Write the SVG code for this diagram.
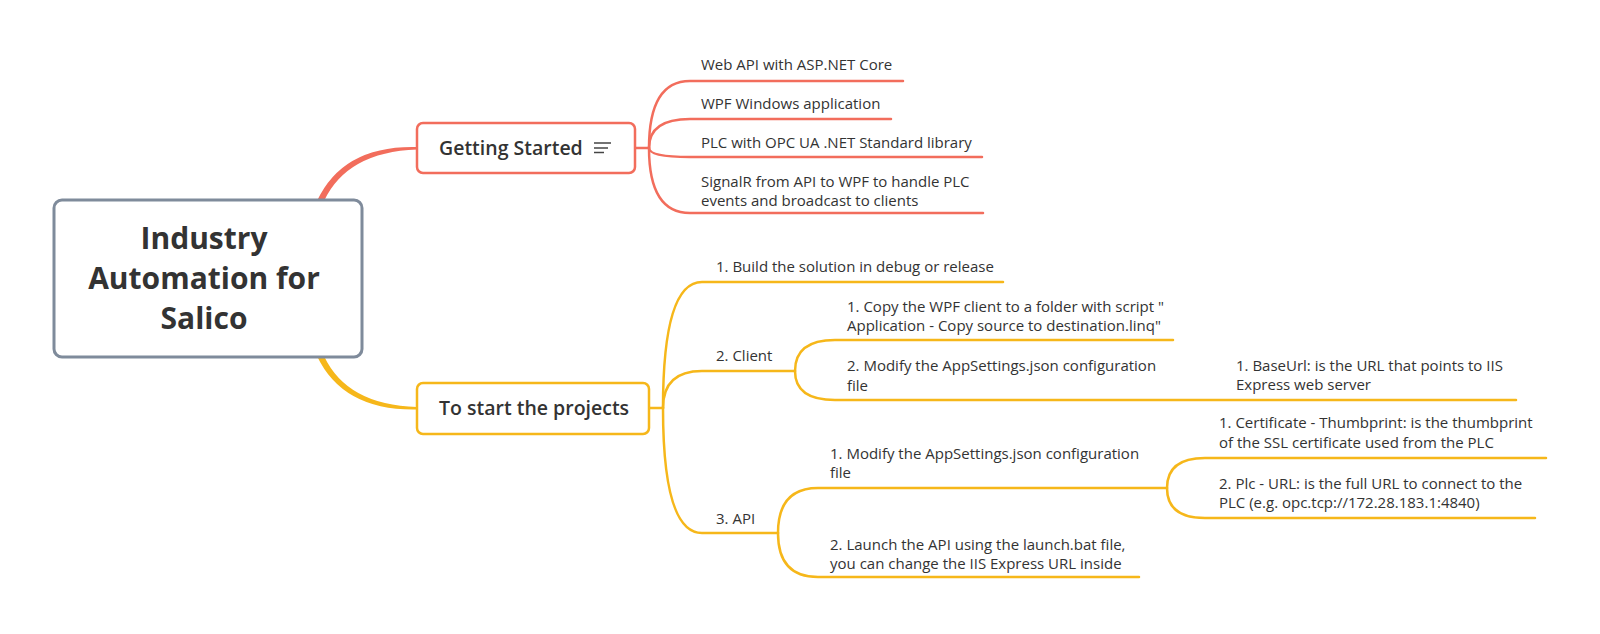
<svg xmlns="http://www.w3.org/2000/svg" width="1600" height="634" viewBox="0 0 1600 634">
<style>
.t{font-family:"Open Sans","Liberation Sans",sans-serif;font-size:15px;fill:#333333}
.tb{font-family:"Open Sans","Liberation Sans",sans-serif;font-size:19.5px;font-weight:600;fill:#333333}
.root{font-family:"Open Sans","Liberation Sans",sans-serif;font-size:30px;font-weight:700;fill:#333333}
.lc{fill:none;stroke:#F26D5C;stroke-width:2.5;stroke-linecap:round}
.lo{fill:none;stroke:#F6B71A;stroke-width:2.5;stroke-linecap:round}
</style>
<rect width="1600" height="634" fill="#ffffff"/>
<g id="connectors">
<path d="M317,201 Q343,145 417,147 L417,149.5 Q347,152 324,201 Z" fill="#F26D5C"/>
<path d="M317,356 Q343,411 417,409.5 L417,407 Q347,405 324,356 Z" fill="#F6B71A"/>
<path class="lc" d="M635,148 L649,148"/>
<path class="lc" d="M649,148 Q649,81 690,81 L903,81"/>
<path class="lc" d="M649,148 Q649,119 690,119 L891,119"/>
<path class="lc" d="M649,148 Q649,157 690,157 L982,157"/>
<path class="lc" d="M649,148 Q649,213 690,213 L983,213"/>
<path class="lo" d="M649,408 L663,408"/>
<path class="lo" d="M663,408 Q663,282 702,282 L1003,282"/>
<path class="lo" d="M663,408 Q663,371 702,371 L795,371"/>
<path class="lo" d="M663,408 Q663,533 702,533 L778,533"/>
<path class="lo" d="M795,371 Q795,340 835,340 L1173,340"/>
<path class="lo" d="M795,371 Q795,400 835,400 L1516,400"/>
<path class="lo" d="M778,533 Q778,488 818,488 L1167,488"/>
<path class="lo" d="M778,533 Q778,577 818,577 L1139,577"/>
<path class="lo" d="M1167,488 Q1167,458 1205,458 L1546,458"/>
<path class="lo" d="M1167,488 Q1167,518 1205,518 L1535,518"/>
</g>
<g id="root">
<rect x="54" y="200" width="308" height="157" rx="8" fill="#ffffff" stroke="#7F8B9B" stroke-width="3"/>
<text class="root" x="204" y="249" text-anchor="middle">Industry</text>
<text class="root" x="204" y="289" text-anchor="middle">Automation for</text>
<text class="root" x="204" y="329" text-anchor="middle">Salico</text>
</g>
<g id="getting-started">
<rect x="417" y="123" width="218" height="50" rx="6" fill="#ffffff" stroke="#F26D5C" stroke-width="2.5"/>
<text class="tb" x="439" y="155">Getting Started</text>
<g stroke="#444444" stroke-width="1.5">
<line x1="594" y1="143" x2="611" y2="143"/>
<line x1="594" y1="148" x2="608" y2="148"/>
<line x1="594" y1="152.5" x2="604" y2="152.5"/>
</g>
</g>
<g id="web-api"><text class="t" x="701" y="70">Web API with ASP.NET Core</text></g>
<g id="wpf"><text class="t" x="701" y="109">WPF Windows application</text></g>
<g id="plc"><text class="t" x="701" y="148">PLC with OPC UA .NET Standard library</text></g>
<g id="signalr"><text class="t" x="701" y="187">SignalR from API to WPF to handle PLC</text><text class="t" x="701" y="206">events and broadcast to clients</text></g>
<g id="to-start">
<rect x="417" y="383" width="232" height="51" rx="6" fill="#ffffff" stroke="#F6B71A" stroke-width="2.5"/>
<text class="tb" x="439" y="415">To start the projects</text>
</g>
<g id="build"><text class="t" x="716" y="272">1. Build the solution in debug or release</text></g>
<g id="client"><text class="t" x="716" y="361">2. Client</text></g>
<g id="copy"><text class="t" x="847" y="312">1. Copy the WPF client to a folder with script "</text><text class="t" x="847" y="331">Application - Copy source to destination.linq"</text></g>
<g id="client-modify"><text class="t" x="847" y="371">2. Modify the AppSettings.json configuration</text><text class="t" x="847" y="391">file</text></g>
<g id="baseurl"><text class="t" x="1236" y="371">1. BaseUrl: is the URL that points to IIS</text><text class="t" x="1236" y="390">Express web server</text></g>
<g id="api"><text class="t" x="716" y="524">3. API</text></g>
<g id="api-modify"><text class="t" x="830" y="459">1. Modify the AppSettings.json configuration</text><text class="t" x="830" y="478">file</text></g>
<g id="launch"><text class="t" x="830" y="550">2. Launch the API using the launch.bat file,</text><text class="t" x="830" y="569">you can change the IIS Express URL inside</text></g>
<g id="certificate"><text class="t" x="1219" y="428">1. Certificate - Thumbprint: is the thumbprint</text><text class="t" x="1219" y="448">of the SSL certificate used from the PLC</text></g>
<g id="plc-url"><text class="t" x="1219" y="489">2. Plc - URL: is the full URL to connect to the</text><text class="t" x="1219" y="508">PLC (e.g. opc.tcp://172.28.183.1:4840)</text></g>
</svg>
